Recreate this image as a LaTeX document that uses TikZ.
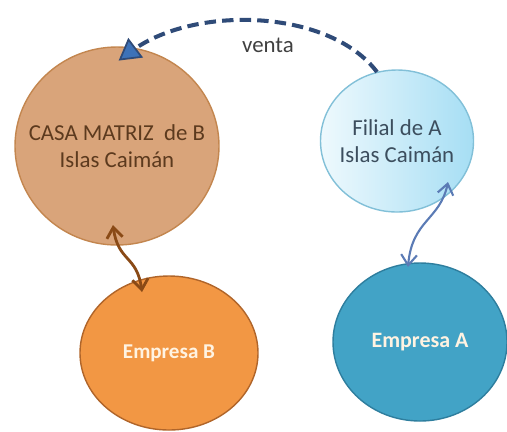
\documentclass[tikz,border=0pt]{standalone}
\usepackage{fontspec}
\setmainfont{Carlito}
\usetikzlibrary{shapes.geometric,arrows.meta,calc}

\definecolor{casafill}{HTML}{D9A47A}
\definecolor{casaline}{HTML}{C3864F}
\definecolor{casatext}{HTML}{5C3A1E}
\definecolor{filialleft}{HTML}{EEF9FD}
\definecolor{filialright}{HTML}{A6DEF4}
\definecolor{filialline}{HTML}{82C0D8}
\definecolor{filialtext}{HTML}{3C4E5E}
\definecolor{empbfill}{HTML}{F29744}
\definecolor{empbline}{HTML}{B0652A}
\definecolor{empafill}{HTML}{42A3C6}
\definecolor{empaline}{HTML}{2E7E9E}
\definecolor{emptext}{HTML}{FFF3E2}
\definecolor{ventaline}{HTML}{2F4B78}
\definecolor{ventatip}{HTML}{3D72B8}
\definecolor{brownarrow}{HTML}{8A4A16}
\definecolor{bluearrow}{HTML}{5B7BB5}

\begin{document}
\begin{tikzpicture}[thick,
	bubble/.style={ellipse, inner sep=-1cm, align=center, font=\fontsize{13}{15.5}\selectfont},
	link/.style={{Straight Barb[length=6pt,width=9pt]}-{Straight Barb[length=6pt,width=9pt]}}]
	\useasboundingbox (0,0) rectangle (10.14,-8.62);
	
	% upper circles
	\node[bubble, fill=casafill, draw=casaline, text=casatext,
		minimum width=4.08cm, minimum height=3.96cm] (casa) at (2.34, -2.92)
		{CASA MATRIZ\ \ de B\\Islas Caimán};
	\node[bubble, left color=filialleft, right color=filialright, draw=filialline,
		text=filialtext, minimum width=3.06cm, minimum height=2.84cm] (filial) at (7.94, -2.82)
		{Filial de A\\Islas Caimán};
	
	% lower circles
	\node[bubble, fill=empbfill, draw=empbline, text=emptext, font=\fontsize{12}{15.5}\selectfont\bfseries,
		minimum width=3.56cm, minimum height=3.08cm] (empB) at (3.38, -7.06) {Empresa B};
	\node[bubble, fill=empafill, draw=empaline, text=emptext, font=\fontsize{12.5}{15.5}\selectfont\bfseries,
		minimum width=3.48cm, minimum height=3.16cm] (empA) at (8.40, -6.84) {Empresa A};
	
	% ends of the connectors
	\coordinate (ventaStart) at ($(filial.center)+(-0.40, 1.38)$);
	\coordinate (casaLow) at ($(casa.center)+(-0.08, -1.58)$);
	\coordinate (empBTop) at ($(empB.center)+(-0.54, 1.22)$);
	\coordinate (filialLow) at ($(filial.center)+(1.02, -0.82)$);
	\coordinate (empATop) at ($(empA.center)+(-0.24, 1.50)$);
	
	% venta
	\node[regular polygon, regular polygon sides=3, inner sep=0pt, minimum size=0.5cm,
		rotate=7, fill=ventatip, draw=ventaline, line width=1pt] (ventaTip) at (2.60, -1.04) {};
	\draw[ventaline, line width=2.3pt, dash pattern=on 6.5pt off 3.5pt]
		(ventaStart) .. controls (6.6, -0.20) and (4.0, -0.10) .. (ventaTip);
	\node[text=black!75, font=\fontsize{13}{15}\selectfont] (venta) at (5.36, -0.90) {venta};
	
	% links to the companies
	\draw[link, brownarrow, line width=1.6pt]
		(casaLow) .. controls (2.36, -5.24) and (2.74, -5.10) .. (empBTop);
	\draw[link, bluearrow, line width=1.2pt]
		(filialLow) .. controls (8.80, -4.40) and (8.24, -4.40) .. (empATop);
\end{tikzpicture}
\end{document}
